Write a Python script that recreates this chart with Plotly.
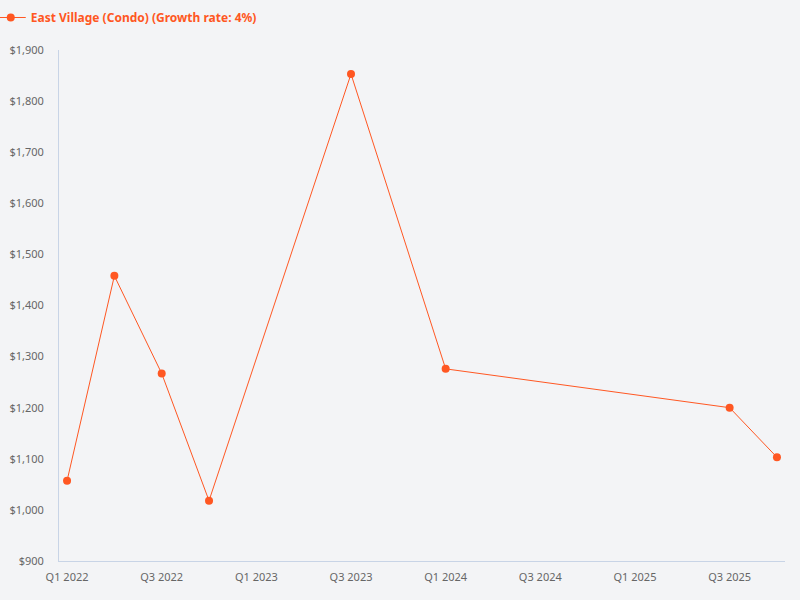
import plotly.graph_objects as go

# all quarters on the axis, only some have data
quarters = [f"Q{q} {y}" for y in range(2022, 2026) for q in range(1, 5)]
tick_quarters = [q for q in quarters if q.startswith("Q1") or q.startswith("Q3")]

obs_quarters = ["Q1 2022", "Q2 2022", "Q3 2022", "Q4 2022",
                "Q3 2023", "Q1 2024", "Q3 2025", "Q4 2025"]
prices = [1057, 1458, 1267, 1018, 1853, 1276, 1200, 1103]

series_name = "East Village (Condo) (Growth rate: 4%)"
color = "#FF5722"

fig = go.Figure()
fig.add_trace(go.Scatter(
    x=obs_quarters, y=prices, name=series_name,
    mode="lines+markers",
    line=dict(color=color, width=1),
    marker=dict(color=color, size=8),
))

fig.update_layout(
    width=800, height=600,
    paper_bgcolor="#F3F4F6", plot_bgcolor="#F3F4F6",
    font=dict(family="Noto Sans", size=11, color="#666666"),
    margin=dict(l=59, r=15, t=50, b=39, autoexpand=False),
    showlegend=True,
    legend=dict(orientation="h", x=-0.094, y=1.092, xanchor="left", yanchor="top",
                itemwidth=30,
                font=dict(size=12, color=color, family="Noto Sans", weight="bold"),
                bgcolor="rgba(0,0,0,0)"),
)

fig.update_xaxes(
    type="category", categoryorder="array", categoryarray=quarters,
    range=[-0.17, 15.17],
    tickvals=tick_quarters, ticktext=tick_quarters,
    showgrid=False, zeroline=False,
    showline=True, linecolor="#C8D4E6", linewidth=1,
    ticks="", ticklabelstandoff=6, tickfont=dict(size=11, color="#666666"),
)
fig.update_yaxes(
    range=[900, 1900], dtick=100, tickprefix="$", tickformat=",",
    showgrid=False, zeroline=False,
    showline=True, linecolor="#C8D4E6", linewidth=1,
    ticks="", ticklabelstandoff=12, tickfont=dict(size=11, color="#666666"),
)

fig.write_html("out.html", config={"displayModeBar": False},
               post_script="document.body.style.margin='0';")
